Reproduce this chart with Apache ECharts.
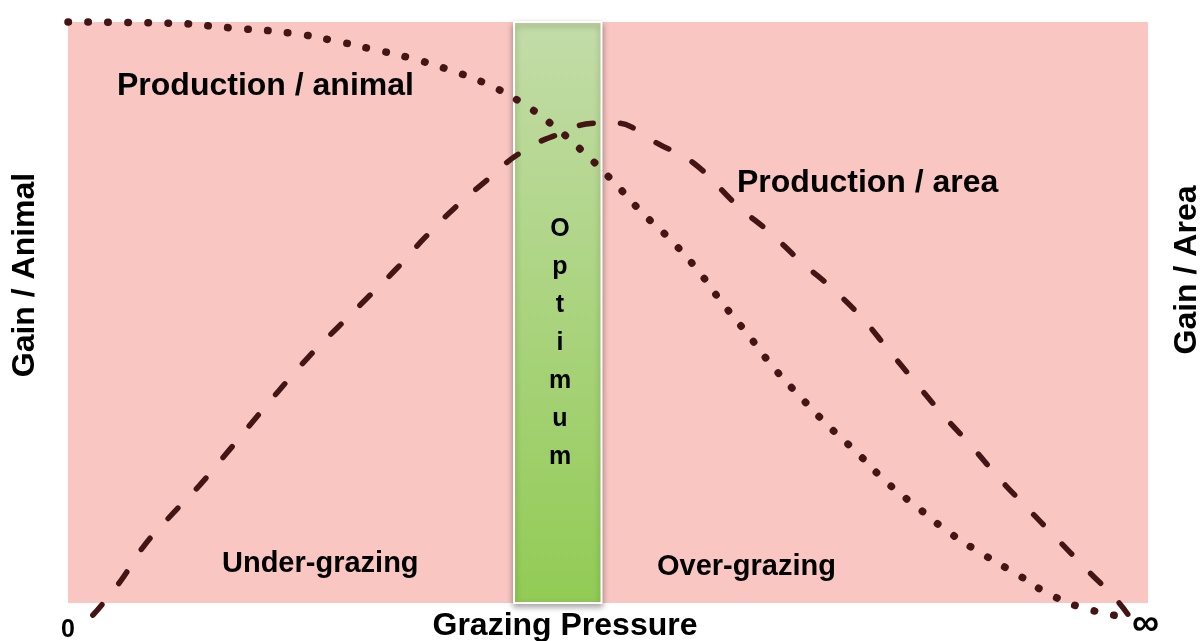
<!DOCTYPE html>
<html>
<head>
<meta charset="utf-8">
<script src="https://cdn.jsdelivr.net/npm/echarts@6/dist/echarts.min.js"></script>
<style>
html,body{margin:0;padding:0;background:#fff;}
#chart{width:1203px;height:641px;}
</style>
</head>
<body>
<div id="chart"></div>
<script>
// ---- data (x: grazing pressure 0..100, y: relative gain 0..100) ----
const xTickLabels = ['0', '\u221E'];
const optimumRange = [41.3, 49.4];

const animalX = [0, 9.4, 15.0, 20.6, 24.3, 28.0, 31.7, 35.4, 38.8, 42.0, 45.1, 47.9, 50.5, 53.1, 55.8, 58.3, 60.6, 63.0, 65.3, 67.8, 70.4, 73.1, 75.8, 78.7, 81.7, 84.8, 88.0, 91.2, 94.7, 97.9];
const animalY = [100, 99.8, 99.0, 98.1, 96.9, 95.4, 93.8, 91.7, 89.3, 86.1, 81.9, 77.3, 72.5, 67.3, 62.5, 57.3, 51.6, 46.1, 40.6, 35.5, 30.5, 25.8, 20.8, 16.4, 12.0, 8.3, 4.8, 1.2, -1.2, -2.4];

const areaX = [2.3, 4.8, 6.9, 9.4, 12.2, 14.7, 17.1, 19.6, 22.2, 24.9, 27.7, 30.5, 33.1, 35.8, 38.8, 41.9, 45.3, 49.1, 50.8, 52.7, 54.4, 57.8, 62.1, 64.9, 67.9, 70.9, 73.5, 76.0, 78.5, 81.0, 83.7, 86.2, 88.8, 91.5, 94.2, 97.1, 98.3];
const areaY = [-2.1, 3.6, 9.5, 14.8, 20.3, 25.8, 31.2, 36.7, 42.2, 47.3, 52.5, 57.7, 63.0, 68.0, 72.8, 77.5, 80.6, 82.6, 82.6, 81.4, 79.3, 75.9, 68.2, 63.9, 58.7, 53.9, 49.1, 43.5, 37.9, 32.4, 26.9, 21.5, 16.4, 11.2, 6.0, 0.5, -2.4];

const pairs = (xs, ys) => xs.map((x, i) => [x, ys[i]]);

const maroon = '#431515';
const darkGreen = '#4a6b28';
const FONT = 'Liberation Sans, Arial, sans-serif';

const chart = echarts.init(document.getElementById('chart'));
chart.setOption({
  animation: false,
  grid: {left: 68, right: 55, top: 22, bottom: 38, containLabel: false, outerBoundsMode: 'none'},
  xAxis: {
    type: 'value', min: 0, max: 100, interval: 100,
    axisLine: {show: false}, axisTick: {show: false}, splitLine: {show: false},
    axisLabel: {
      margin: 12,
      formatter: v => v === 0 ? '{z|' + xTickLabels[0] + '}' : '{inf|' + xTickLabels[1] + '}',
      rich: {
        z: {fontFamily: FONT, fontWeight: 'bold', fontSize: 25, color: '#000', lineHeight: 26, padding: [5, 0, 0, 0]},
        inf: {fontFamily: FONT, fontWeight: 'bold', fontSize: 38, color: '#000', lineHeight: 20, padding: [0, 5, 0, 0]}
      }
    }
  },
  yAxis: {
    type: 'value', min: 0, max: 100,
    axisLine: {show: false}, axisTick: {show: false}, splitLine: {show: false}, axisLabel: {show: false}
  },
  visualMap: {
    show: false, type: 'piecewise', dimension: 0, seriesIndex: [1, 2],
    pieces: [
      {lt: optimumRange[0], color: maroon},
      {gte: optimumRange[0], lte: optimumRange[1], color: darkGreen},
      {gt: optimumRange[1], color: maroon}
    ]
  },
  series: [
    {
      type: 'line', data: [], z: 1, silent: true,
      markArea: {
        silent: true,
        data: [
          [{xAxis: 0, yAxis: 0, itemStyle: {color: '#f9c6c2'}}, {xAxis: 100, yAxis: 100}],
          [{xAxis: optimumRange[0], yAxis: 0, itemStyle: {
              color: new echarts.graphic.LinearGradient(0, 0, 0, 1, [
                {offset: 0, color: '#c3dca8'},
                {offset: 1, color: '#92cb55'}
              ]),
              borderColor: '#ffffff', borderWidth: 2,
              shadowBlur: 6, shadowColor: 'rgba(0,0,0,0.35)', shadowOffsetY: 3
            }}, {xAxis: optimumRange[1], yAxis: 100}]
        ]
      }
    },
    {
      name: 'Production / animal', type: 'line', z: 3,
      data: pairs(animalX, animalY),
      showSymbol: false, smooth: 0.5, clip: false,
      lineStyle: {width: 7.5, type: [0.5, 19.5], cap: 'round', color: maroon}
    },
    {
      name: 'Production / area', type: 'line', z: 3,
      data: pairs(areaX, areaY),
      showSymbol: false, smooth: 0.5, clip: false,
      lineStyle: {width: 5.5, type: [14, 27], cap: 'round', color: maroon}
    }
  ],
  graphic: [
    {type: 'text', z: 10, left: 117, top: 88 - 18, style: {text: 'Production / animal', font: 'bold 32px ' + FONT, fill: '#000'}},
    {type: 'text', z: 10, left: 737, top: 185 - 18, style: {text: 'Production / area', font: 'bold 32px ' + FONT, fill: '#000'}},
    {type: 'text', z: 10, left: 222, top: 565 - 16, style: {text: 'Under-grazing', font: 'bold 29px ' + FONT, fill: '#000'}},
    {type: 'text', z: 10, left: 657, top: 568 - 16, style: {text: 'Over-grazing', font: 'bold 29px ' + FONT, fill: '#000'}},
    {type: 'text', z: 10, x: 565, y: 626, style: {text: 'Grazing Pressure', font: 'bold 32px ' + FONT, fill: '#000', align: 'center', verticalAlign: 'middle'}},
    {type: 'text', z: 10, x: 560, y: 343, style: {text: 'O\np\nt\ni\nm\nu\nm', font: 'bold 25px ' + FONT, lineHeight: 38, fill: '#000', align: 'center', verticalAlign: 'middle'}},
    {type: 'text', z: 10, x: 25, y: 275, rotation: Math.PI / 2, style: {text: 'Gain / Animal', font: 'bold 32px ' + FONT, fill: '#000', align: 'center', verticalAlign: 'middle'}},
    {type: 'text', z: 10, x: 1187, y: 270, rotation: Math.PI / 2, style: {text: 'Gain / Area', font: 'bold 32px ' + FONT, fill: '#000', align: 'center', verticalAlign: 'middle'}}
  ]
});
</script>
</body>
</html>
